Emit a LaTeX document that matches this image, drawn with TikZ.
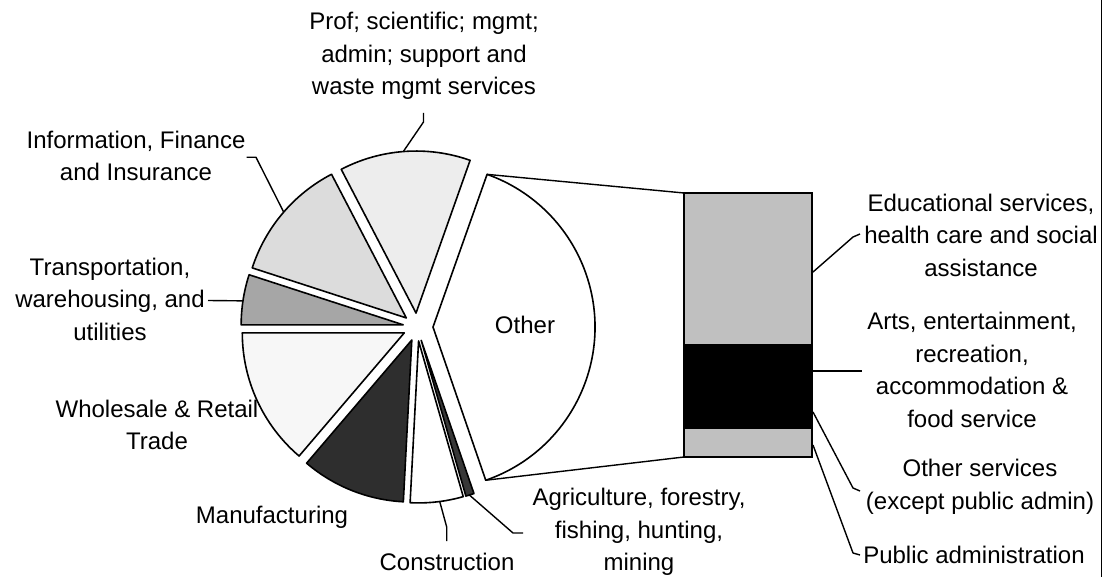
\documentclass[tikz,border=0pt]{standalone}
\usepackage{fontspec}
\setmainfont{Liberation Sans}
\usetikzlibrary{calc}
\definecolor{cprof}{HTML}{EDEDED}
\definecolor{cinfo}{HTML}{DCDCDC}
\definecolor{ctrans}{HTML}{A6A6A6}
\definecolor{cwhole}{HTML}{F7F7F7}
\definecolor{cmanu}{HTML}{2E2E2E}
\definecolor{cagri}{HTML}{383838}
\definecolor{cbar}{HTML}{C0C0C0}
\newcommand\pieR{162}
\newcommand\myslice[5]{%
  \coordinate (#1) at ($(C)+({-((#2)+(#3))/2}:#4)$);
  \filldraw[slice,fill=#5] (#1) -- ++({-(#2)}:\pieR) arc[start angle={-(#2)}, end angle={-(#3)}, radius=\pieR] -- cycle;}
\begin{document}
\begin{tikzpicture}[x=1pt,y=-1pt,
  slice/.style={draw=black,line width=1.6pt,line join=round},
  leader/.style={draw=black,line width=1.4pt,line join=round},
  barseg/.style={draw=black,line width=1.6pt,minimum width=128pt,inner sep=0pt,outer sep=0pt},
  lbl/.style={font=\fontsize{24}{32.5}\selectfont,align=center,inner sep=0pt}]
\useasboundingbox (0,0) rectangle (1103,577);
\coordinate (C) at (417,327);
% pie slices
\myslice{tprof}{70.5}{117.5}{14}{cprof}
\myslice{tinfo}{117.5}{162}{14}{cinfo}
\myslice{ttrans}{162}{180}{14}{ctrans}
\myslice{twhole}{180}{229.5}{14}{cwhole}
\myslice{tmanu}{229.5}{267}{14}{cmanu}
\myslice{tcons}{267}{286}{14}{white}
\myslice{tagri}{286}{289}{14}{cagri}
\myslice{tother}{-71}{70.5}{16}{white}
% bar
\node[barseg,fill=cbar,minimum height=152pt] (bedu) at (748,269) {};
\node[barseg,fill=black,minimum height=83pt] (barts) at (748,386.5) {};
\node[barseg,fill=cbar,minimum height=29pt] (bpub) at (748,442.5) {};
% connectors other -> bar
\coordinate (oT) at ($(tother)+(-70.5:\pieR)$);
\coordinate (oB) at ($(tother)+(71:\pieR)$);
\draw[leader] (oT) -- (bedu.north west);
\draw[leader] (oB) -- (bpub.south west);
% labels
\node[lbl] (lprof) at (424,56) {Prof; scientific; mgmt;\\admin; support and\\waste mgmt services};
\node[lbl] (linfo) at (136,156) {Information, Finance\\and Insurance};
\node[lbl] (ltrans) at (110,299) {Transportation,\\warehousing, and\\utilities};
\node[lbl] (lwhole) at (157,425) {Wholesale \& Retail\\Trade};
\node[lbl] (lmanu) at (272,517) {Manufacturing};
\node[lbl] (lcons) at (447,562) {Construction};
\node[lbl] (lagri) at (639,532) {Agriculture, forestry,\\fishing, hunting,\\mining};
\node[lbl] (lother) at (525,325) {Other};
\node[lbl] (ledu) at (981,235) {Educational services,\\health care and social\\assistance};
\node[lbl] (larts) at (972,370) {Arts, entertainment,\\recreation,\\accommodation \&\\food service};
\node[lbl] (loths) at (980,487) {Other services\\(except public admin)};
\node[lbl] (lpub) at (974,555) {Public administration};
% leaders on pie
\coordinate (eprof) at ($(tprof)+(-94.5:\pieR)$);
\coordinate (aprof) at (423.5,113);
\draw[leader] (eprof) -- (423.5,122) -- (aprof);
\coordinate (einfo) at ($(tinfo)+(-139.2:\pieR)$);
\coordinate (ainfo) at (246.5,157.3);
\draw[leader] (einfo) -- (256,157.3) -- (ainfo);
\coordinate (etrans) at ($(ttrans)+(-171.5:\pieR)$);
\coordinate (atrans) at (208,300.5);
\draw[leader] (etrans) -- (atrans);
\coordinate (econs) at ($(tcons)+(-277.5:\pieR)$);
\coordinate (acons) at (446.7,541);
\draw[leader] (econs) -- (446.7,527) -- (acons);
\coordinate (eagri) at ($(tagri)+(-287.3:\pieR)$);
\coordinate (aagri) at (523,533);
\draw[leader] (eagri) -- (513,533) -- (aagri);
% leaders on bar
\coordinate (sedu) at (813,272);
\coordinate (aedu) at (860,234);
\draw[leader] (sedu) -- (853,237) -- (aedu);
\coordinate (sarts) at (813,371);
\coordinate (aarts) at (862,371);
\draw[leader] (sarts) -- (aarts);
\coordinate (soths) at (813,412);
\coordinate (aoths) at (860,491);
\draw[leader] (soths) -- (853,488) -- (aoths);
\coordinate (spub) at (813,445);
\coordinate (apub) at (860,555);
\draw[leader] (spub) -- (853,553) -- (apub);
% right border
\coordinate (rb1) at (1101.5,0);
\coordinate (rb2) at (1101.5,577);
\draw[line width=1.5pt] (rb1) -- (rb2);
\end{tikzpicture}
\end{document}
